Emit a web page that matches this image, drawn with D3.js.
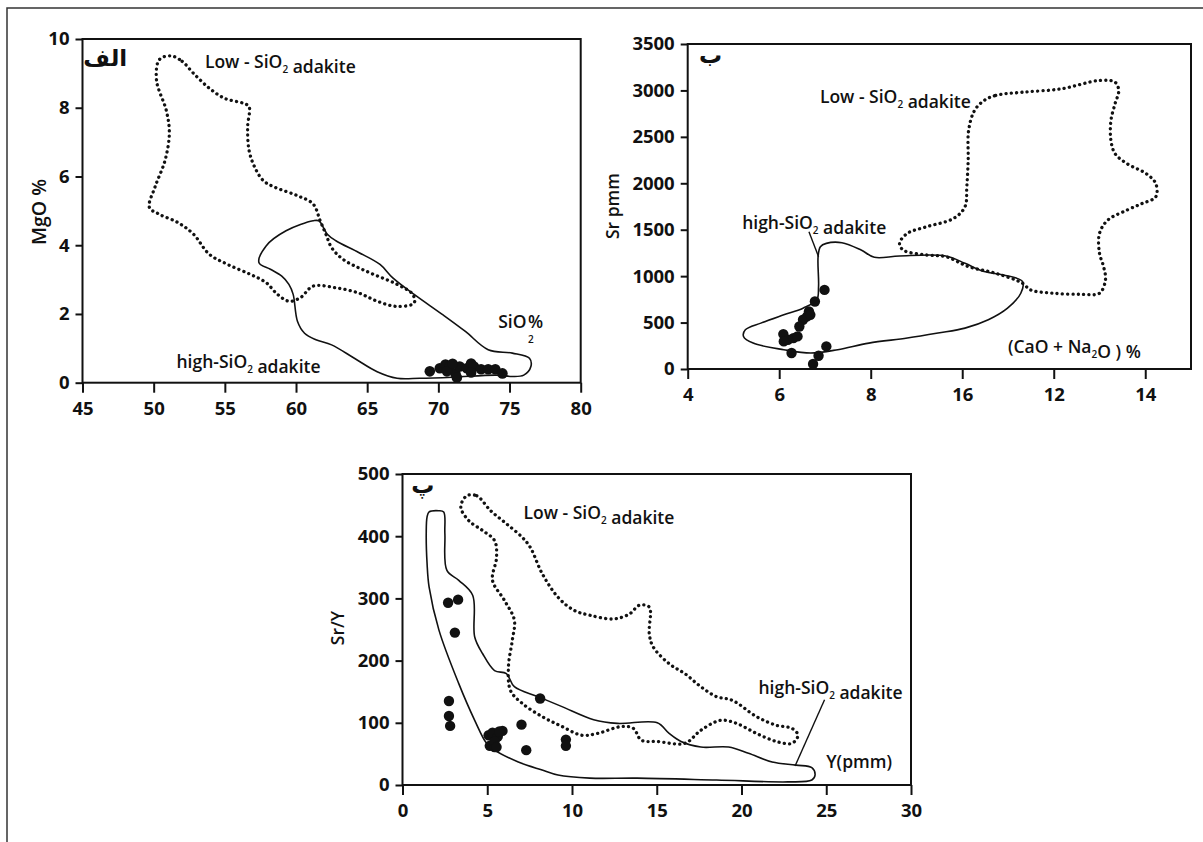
<!DOCTYPE html>
<html>
<head>
<meta charset="utf-8">
<script src="https://cdn.jsdelivr.net/npm/d3@7"></script>
<style>
  html, body { margin: 0; padding: 0; background: #fff; }
  svg { display: block; }
  .tick text { font-family: "Open Sans", sans-serif; font-weight: 700; font-size: 18.5px; fill: #111; }
  .lbl { font-family: "Open Sans", sans-serif; font-weight: 600; font-size: 17.5px; fill: #111; }
  .ttl { font-family: "Open Sans", sans-serif; font-weight: 600; font-size: 17.5px; fill: #111; }
  .ar { font-family: "DejaVu Sans", sans-serif; font-weight: bold; font-size: 23px; fill: #111; }
</style>
</head>
<body>
<svg id="fig" width="1203" height="842"></svg>
<script>
// ---------- Panel A: MgO vs SiO2 ----------
const aXTicks = [45, 50, 55, 60, 65, 70, 75, 80];
const aYTicks = [0, 2, 4, 6, 8, 10];
const aLowSi = [[51.2,9.51],[52.0,9.35],[52.8,9.0],[53.9,8.57],[55.0,8.27],[56.3,8.13],[56.7,8.03],[56.6,7.44],[56.7,6.76],[57.1,6.27],[57.7,5.88],[58.5,5.69],[60.1,5.44],[61.2,5.2],[61.7,4.71],[62.1,4.32],[62.5,3.93],[63.3,3.59],[64.9,3.25],[67.1,2.86],[68.2,2.57],[68.3,2.32],[67.1,2.22],[65.7,2.37],[64.4,2.61],[62.8,2.76],[61.2,2.81],[60.3,2.47],[59.5,2.37],[58.7,2.57],[57.9,2.91],[56.8,3.15],[55.2,3.44],[53.9,3.74],[52.8,4.32],[51.7,4.66],[50.4,4.9],[49.7,5.1],[50.1,5.7],[50.8,6.47],[51.1,7.25],[50.9,7.9],[50.2,8.8],[50.4,9.4]];
const aHighSi = [[57.4,3.49],[57.9,3.98],[59.3,4.42],[61.2,4.71],[61.6,4.71],[62.2,4.32],[62.8,4.13],[64.4,3.79],[65.9,3.44],[66.8,3.05],[68.3,2.57],[70.3,1.98],[71.9,1.49],[73.5,0.96],[75.2,0.86],[76.4,0.71],[76.5,0.47],[76.0,0.22],[75.2,0.18],[74.1,0.22],[71.0,0.16],[68.7,0.13],[67.1,0.13],[65.7,0.32],[64.1,0.71],[62.5,1.1],[61.4,1.25],[60.6,1.44],[60.1,1.79],[59.8,2.57],[59.5,2.86],[59.0,3.1],[58.2,3.3]];
const aSamples = [[69.4,0.33],[70.1,0.42],[70.5,0.53],[70.8,0.47],[71.2,0.27],[71.3,0.15],[71.5,0.47],[72.0,0.42],[72.3,0.56],[72.5,0.47],[73.0,0.39],[73.5,0.39],[74.0,0.39],[74.5,0.27],[70.6,0.33],[71.0,0.55],[72.3,0.3]];

// ---------- Panel B: Sr vs (CaO + Na2O) ----------
const bXTicks = [4, 6, 8, 10, 12, 14];
const bXTickLabels = ["4", "6", "8", "16", "12", "14"];
const bYTicks = [0, 500, 1000, 1500, 2000, 2500, 3000, 3500];
const bLowSi = [[10.48,2892],[10.73,2946],[11.32,2981],[12.16,3017],[13.0,3107],[13.34,3089],[13.42,2999],[13.34,2856],[13.25,2677],[13.25,2462],[13.34,2319],[13.6,2212],[14.02,2104],[14.23,1997],[14.23,1854],[13.93,1782],[13.6,1711],[13.18,1603],[13.0,1460],[13.0,1246],[13.09,1102],[13.13,959],[13.0,816],[12.59,805],[12.0,816],[11.49,852],[11.32,923],[10.73,1031],[10.14,1102],[9.64,1210],[9.22,1228],[8.71,1281],[8.63,1353],[8.8,1460],[9.22,1532],[9.81,1621],[10.06,1747],[10.1,1961],[10.13,2248],[10.14,2570],[10.27,2785]];
const bHighSi = [[6.9,1317],[7.03,1353],[7.37,1360],[7.79,1281],[8.08,1203],[8.63,1217],[9.64,1217],[10.06,1138],[10.48,1049],[10.9,1013],[11.32,941],[11.28,816],[10.99,655],[10.57,530],[10.06,440],[9.47,387],[8.8,333],[7.96,279],[7.28,208],[6.69,172],[6.1,208],[5.43,279],[5.22,351],[5.26,422],[5.6,494],[6.1,583],[6.52,655],[6.82,744],[6.86,888],[6.85,1210]];
const bLeader = [[6.65,1478],[6.86,1210]];
const bSamples = [[6.99,852],[6.78,727],[6.65,619],[6.61,566],[6.52,530],[6.44,458],[6.09,376],[6.19,315],[6.31,333],[6.4,351],[6.27,172],[7.03,243],[6.86,143],[6.74,54],[6.68,583],[6.1,297]];

// ---------- Panel C: Sr/Y vs Y ----------
const cXTicks = [0, 5, 10, 15, 20, 25, 30];
const cYTicks = [0, 100, 200, 300, 400, 500];
const cLowSi = [[3.79,465],[4.38,465],[5.2,441],[6.13,420],[7.07,398],[7.54,382],[8.24,340],[9.17,302],[10.11,281],[11.05,273],[12.46,267],[13.39,275],[13.98,289],[14.56,286],[14.56,243],[14.79,222],[15.73,195],[16.66,179],[17.6,158],[18.53,142],[19.47,136],[20.88,110],[22.05,96],[22.98,91],[23.33,80],[22.98,67],[22.05,70],[20.88,83],[19.71,99],[18.77,104],[17.6,88],[16.66,67],[15.03,70],[14.09,72],[13.62,91],[12.92,94],[11.51,83],[10.58,80],[9.41,94],[8.24,110],[7.07,131],[6.37,152],[6.25,190],[6.48,233],[6.6,265],[6.01,297],[5.31,329],[5.55,366],[5.43,393],[4.73,409],[3.91,425],[3.44,447]];
const cHighSi = [[1.57,439],[2.15,441],[2.43,439],[2.5,404],[2.62,345],[3.32,329],[4.14,305],[4.26,238],[4.73,211],[5.43,184],[6.13,179],[6.6,158],[8.0,142],[9.41,126],[11.28,105],[12.68,99],[15.03,100],[15.73,83],[16.43,70],[17.6,61],[19.24,61],[20.41,51],[21.81,37],[23.22,32],[24.15,28],[24.34,16],[24.15,8],[22.75,5],[18.53,8],[13.85,11],[11.05,11],[9.17,16],[8.24,24],[6.83,37],[5.43,56],[4.96,67],[4.26,104],[3.32,163],[2.15,249],[1.57,318],[1.45,356],[1.4,404],[1.45,431]];
const cLeader = [[24.9,137],[23.16,30.5]];
const cSamples = [[2.69,293],[3.28,298],[3.09,245],[2.74,135],[2.74,111],[2.81,95],[5.15,63],[5.43,61],[5.08,80],[5.31,84],[5.62,78],[5.9,87],[5.43,70],[7.02,97],[7.3,56],[8.12,139],[9.64,73],[9.64,63],[5.71,86],[5.55,61]];

const svg = d3.select("#fig");

// outer figure border
svg.append("rect")
  .attr("x", 7).attr("y", 8).attr("width", 1220).attr("height", 860)
  .attr("fill", "none").attr("stroke", "#333").attr("stroke-width", 1.5);

// text with optional subscript pieces: parts = [[string, isSub], ...]
function richText(g, x, y, parts, cls) {
  const t = g.append("text").attr("class", cls).attr("x", x).attr("y", y);
  parts.forEach(([s, sub]) => {
    if (sub) {
      t.append("tspan").attr("dy", 5).style("font-size", "10px").text(s);
      t.append("tspan").attr("dy", -5).text("");
    } else {
      t.append("tspan").text(s);
    }
  });
  return t;
}

function panel(cfg) {
  const g = svg.append("g");
  const x = d3.scaleLinear().domain(cfg.xDomain).range([cfg.left, cfg.right]);
  const y = d3.scaleLinear().domain(cfg.yDomain).range([cfg.bottom, cfg.top]);

  const xAxis = d3.axisBottom(x).tickValues(cfg.xTicks).tickSize(10).tickSizeOuter(0).tickPadding(9);
  if (cfg.xFormat) xAxis.tickFormat(cfg.xFormat);
  const yAxis = d3.axisLeft(y).tickValues(cfg.yTicks).tickSize(7).tickSizeOuter(0).tickPadding(6)
    .tickFormat(d3.format("d"));

  const gx = g.append("g").attr("transform", `translate(0,${cfg.bottom})`).call(xAxis);
  const gy = g.append("g").attr("transform", `translate(${cfg.left},0)`).call(yAxis);
  [gx, gy].forEach(a => {
    a.select(".domain").remove();
    a.selectAll(".tick line").attr("stroke", "#111").attr("stroke-width", 2);
  });

  g.append("rect")
    .attr("x", cfg.left).attr("y", cfg.top)
    .attr("width", cfg.right - cfg.left).attr("height", cfg.bottom - cfg.top)
    .attr("fill", "none").attr("stroke", "#111").attr("stroke-width", 2);

  const closed = d3.line().x(d => x(d[0])).y(d => y(d[1])).curve(d3.curveCatmullRomClosed.alpha(0.5));

  g.append("path").attr("d", closed(cfg.low))
    .attr("fill", "none").attr("stroke", "#111").attr("stroke-width", 3.3)
    .attr("stroke-linecap", "round").attr("stroke-dasharray", "0.1 5.2");

  g.append("path").attr("d", closed(cfg.high))
    .attr("fill", "none").attr("stroke", "#111").attr("stroke-width", 1.6)
    .attr("stroke-linejoin", "round");

  if (cfg.leader) {
    g.append("path").attr("d", d3.line().x(d => x(d[0])).y(d => y(d[1]))(cfg.leader))
      .attr("fill", "none").attr("stroke", "#111").attr("stroke-width", 1.4);
  }

  g.append("g").selectAll("circle").data(cfg.samples).join("circle")
    .attr("cx", d => x(d[0])).attr("cy", d => y(d[1])).attr("r", cfg.r)
    .attr("fill", "#111");

  g.append("text").attr("class", "ttl")
    .attr("transform", `translate(${cfg.yTitlePos[0]},${cfg.yTitlePos[1]}) rotate(-90)`)
    .attr("text-anchor", "middle").style("font-size", cfg.yTitleSize || null).text(cfg.yTitle);

  g.append("text").attr("class", "ar").attr("text-anchor", "middle")
    .attr("x", x(cfg.tag[1][0])).attr("y", y(cfg.tag[1][1])).text(cfg.tag[0]);

  cfg.labels.forEach(l => richText(g, x(l.at[0]), y(l.at[1]), l.parts, "lbl"));
  return {g, x, y};
}

// Panel A
const pA = panel({
  left: 82.5, right: 580.7, top: 39, bottom: 382.7,
  xDomain: [45, 80], yDomain: [0, 10], xTicks: aXTicks, yTicks: aYTicks,
  low: aLowSi, high: aHighSi, samples: aSamples, r: 5.3,
  yTitle: "MgO %", yTitlePos: [46, 212], yTitleSize: "19.5px",
  tag: ["الف", [46.6, 9.2]],
  labels: [
    {at: [53.6, 9.15], parts: [["Low - SiO"], ["2", true], [" adakite"]]},
    {at: [51.6, 0.42], parts: [["high-SiO"], ["2", true], [" adakite"]]}
  ]
});
// "SiO2%" with the subscript set just beneath the percent sign
richText(pA.g, pA.x(74.2), pA.y(1.6), [["SiO"]], "lbl");
pA.g.append("text").attr("class", "lbl").attr("x", pA.x(76.3)).attr("y", pA.y(1.6)).text("%");
pA.g.append("text").attr("class", "lbl").style("font-size", "10px")
  .attr("x", pA.x(76.3)).attr("y", pA.y(1.15)).text("2");

// Panel B
panel({
  left: 687.7, right: 1191, top: 44, bottom: 369,
  xDomain: [4, 15], yDomain: [0, 3500], xTicks: bXTicks, yTicks: bYTicks,
  xFormat: (d, i) => bXTickLabels[i],
  low: bLowSi, high: bHighSi, leader: bLeader, samples: bSamples, r: 5.2,
  yTitle: "Sr pmm", yTitlePos: [619, 206],
  tag: ["ب", [4.5, 3300]],
  labels: [
    {at: [6.89, 2865], parts: [["Low - SiO"], ["2", true], [" adakite"]]},
    {at: [5.19, 1508], parts: [["high-SiO"], ["2", true], [" adakite"]]},
    {at: [11.0, 172], parts: [["(CaO + Na"], ["2", true], ["O ) %"]]}
  ]
});

// Panel C
panel({
  left: 402.5, right: 911, top: 474, bottom: 785,
  xDomain: [0, 30], yDomain: [0, 500], xTicks: cXTicks, yTicks: cYTicks,
  low: cLowSi, high: cHighSi, leader: cLeader, samples: cSamples, r: 5.2,
  yTitle: "Sr/Y", yTitlePos: [344, 628],
  tag: ["پ", [1.2, 469]],
  labels: [
    {at: [7.14, 428], parts: [["Low - SiO"], ["2", true], [" adakite"]]},
    {at: [21.0, 146], parts: [["high-SiO"], ["2", true], [" adakite"]]},
    {at: [25.0, 27], parts: [["Y(pmm)"]]}
  ]
});
</script>
</body>
</html>
